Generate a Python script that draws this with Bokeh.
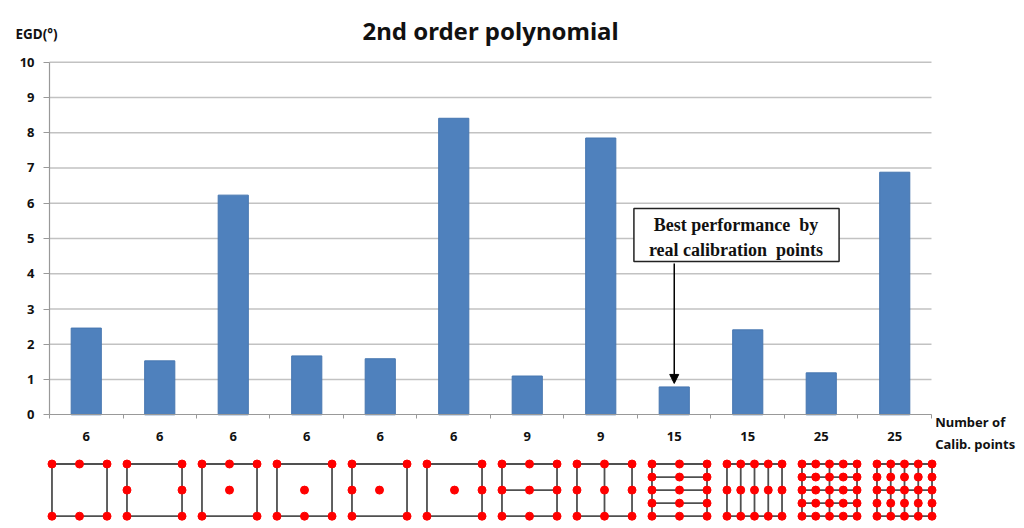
from bokeh.plotting import figure
from bokeh.models import Range1d, FixedTicker, Label, Arrow, NormalHead, CustomJSTickFormatter
from bokeh.embed import file_html
from bokeh.resources import INLINE

# ---------------- data ----------------
calib_points = ["6", "6", "6", "6", "6", "6", "9", "9", "15", "15", "25", "25"]
egd_values = [2.46, 1.53, 6.23, 1.67, 1.59, 8.41, 1.10, 7.85, 0.79, 2.41, 1.19, 6.88]
y_ticks = [0, 1, 2, 3, 4, 5, 6, 7, 8, 9, 10]
best_index = 8
title_text = "2nd order polynomial"
y_title = "EGD(°)"
x_title = ["Number of", "Calib. points"]
note_text = "Best performance\u00a0\u00a0by\nreal calibration\u00a0\u00a0points"


def grid(nc, nr):
    us = [-1 + 2 * k / (nc - 1) for k in range(nc)]
    vs = [-1 + 2 * k / (nr - 1) for k in range(nr)]
    return [(u, v) for u in us for v in vs]


# calibration point layouts (normalised square -1..1)
diagram_points = [
    [(-1, 1), (0, 1), (1, 1), (-1, -1), (0, -1), (1, -1)],
    [(-1, 1), (1, 1), (-1, 0), (1, 0), (-1, -1), (1, -1)],
    [(-1, 1), (0, 1), (1, 1), (0, 0), (-1, -1), (1, -1)],
    [(-1, 1), (1, 1), (0, 0), (-1, -1), (0, -1), (1, -1)],
    [(-1, 1), (1, 1), (-1, 0), (0, 0), (-1, -1), (1, -1)],
    [(-1, 1), (1, 1), (0, 0), (1, 0), (-1, -1), (1, -1)],
    grid(3, 3), grid(3, 3), grid(3, 5), grid(5, 3), grid(5, 5), grid(5, 5),
]
diagram_lines = [
    [], [], [], [], [], [],
    [("h", 0)], [("v", 0)],
    [("h", -0.5), ("h", 0), ("h", 0.5)],
    [("v", -0.5), ("v", 0), ("v", 0.5)],
    [("h", -0.5), ("h", 0), ("h", 0.5), ("v", 0)],
    [("v", -0.5), ("v", 0), ("v", 0.5), ("h", 0)],
]

N = len(calib_points)
centers = [i + 0.5 for i in range(N)]

W, H = 1020, 524
# ---------------- figure (frame = whole canvas, axes fixed at 0) ----------------
p = figure(width=W, height=H, x_range=Range1d(-0.6667, 13.211), y_range=Range1d(-3.111, 11.750),
           output_backend="svg", toolbar_location=None, min_border=0)
p.outline_line_color = None
p.grid.visible = False
p.extra_x_ranges = {"diag": Range1d(-0.5533, 13.0467)}
p.extra_y_ranges = {"diag": Range1d(-1.318, 18.759)}

# horizontal grid lines
p.segment(x0=0, x1=N, y0=y_ticks[1:], y1=y_ticks[1:], line_color="#c2c2c2", line_width=1.5,
          level="underlay")

p.vbar(x=centers, top=egd_values, width=0.41, fill_color="#4F81BD", line_color="#4676B0")

yax = p.yaxis[0]
yax.fixed_location = 0
yax.bounds = (0, 10)
yax.ticker = FixedTicker(ticks=y_ticks)
yax.major_label_text_font = "Noto Sans"
yax.major_label_text_font_style = "bold"
yax.major_label_text_font_size = "13px"
yax.major_label_text_color = "#111111"
yax.axis_line_color = "#999999"
yax.axis_line_width = 1.2
yax.major_tick_line_color = "#999999"
yax.major_tick_out = 6
yax.major_tick_in = 0
yax.major_label_standoff = 9
yax.minor_tick_line_color = None

xax = p.xaxis[0]
xax.fixed_location = 0
xax.bounds = (0, N)
xax.ticker = FixedTicker(ticks=centers, minor_ticks=list(range(N + 1)))
xax.formatter = CustomJSTickFormatter(args=dict(labels=calib_points),
                                      code="return labels[Math.floor(tick)];")
xax.major_label_text_font = "Noto Sans"
xax.major_label_text_font_style = "bold"
xax.major_label_text_font_size = "13px"
xax.major_label_text_color = "#111111"
xax.major_tick_line_color = None
xax.major_tick_out = 0
xax.major_tick_in = 0
xax.major_label_standoff = 13
xax.minor_tick_line_color = "#999999"
xax.minor_tick_out = 4
xax.minor_tick_in = 0
xax.axis_line_color = "#999999"
xax.axis_line_width = 1.2

common = dict(text_font="Noto Sans", text_font_style="bold", text_color="#111111",
              text_baseline="middle")
p.add_layout(Label(x=6.0, y=10.90, text=title_text, text_align="center",
                   text_font_size="24px", **common))
p.add_layout(Label(x=-0.4626, y=10.81, text=y_title, text_align="left",
                   text_font_size="13.5px", **common))
p.add_layout(Label(x=12.05, y=-0.218, text=x_title[0], text_align="left",
                   text_font_size="13px", **common))
p.add_layout(Label(x=12.05, y=-0.84, text=x_title[1], text_align="left",
                   text_font_size="13px", **common))

p.add_layout(Label(x=9.347, y=5.099, text=note_text,
                   text_align="center", text_baseline="middle",
                   text_font="Liberation Serif", text_font_style="bold", text_font_size="18px",
                   text_color="#111111", text_line_height=1.25,
                   border_line_color="#222222", border_line_width=1.5,
                   background_fill_color="white", padding=(15, 16, 6, 2)))
p.add_layout(Arrow(end=NormalHead(size=9, fill_color="black", line_color="black"),
                   x_start=centers[best_index], y_start=4.29,
                   x_end=centers[best_index], y_end=egd_values[best_index] + 0.1,
                   line_color="black", line_width=1.5))

# ---------------- calibration layouts strip ----------------
HW = 0.367
xs_pts, ys_pts, xs_lines, ys_lines = [], [], [], []
for i, (pts, lines) in enumerate(zip(diagram_points, diagram_lines)):
    cx = i + 0.5
    for (u, v) in pts:
        xs_pts.append(cx + u * HW)
        ys_pts.append(v)
    xs_lines.append([cx - HW, cx + HW, cx + HW, cx - HW, cx - HW])
    ys_lines.append([-1, -1, 1, 1, -1])
    for kind, c in lines:
        if kind == "h":
            xs_lines.append([cx - HW, cx + HW])
            ys_lines.append([c, c])
        else:
            xs_lines.append([cx + c * HW, cx + c * HW])
            ys_lines.append([-1, 1])

p.multi_line(xs_lines, ys_lines, line_color="#505050", line_width=1.8,
             x_range_name="diag", y_range_name="diag")
p.scatter(xs_pts, ys_pts, size=8, fill_color="#ff0000", line_color="#ff0000",
          x_range_name="diag", y_range_name="diag")

open("out.html", "w").write(file_html(p, INLINE))
